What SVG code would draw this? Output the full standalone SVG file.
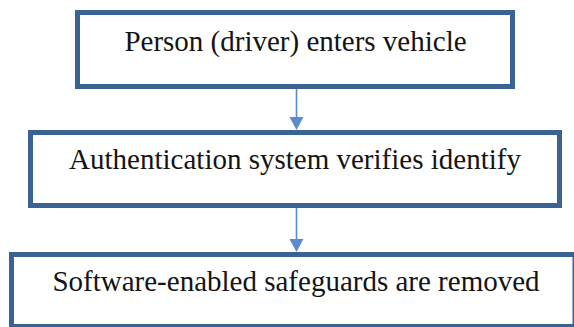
<svg xmlns="http://www.w3.org/2000/svg" width="574" height="327" viewBox="0 0 574 327">
  <defs>
    <style>
      .box { fill: #ffffff; stroke: #3b6294; stroke-width: 5; }
      .label { font-family: "Liberation Serif", "Times New Roman", serif; font-size: 29px; fill: #141414; text-anchor: middle; }
      .link { stroke: #5b8bcf; stroke-width: 1.6; fill: none; }
      .head { fill: #5b8bcf; }
    </style>
  </defs>
  <rect width="574" height="327" fill="#ffffff"/>

  <!-- connectors -->
  <g id="connectors">
    <line class="link" x1="296.5" y1="88" x2="296.5" y2="118"/>
    <polygon class="head" points="289.5,117 303.5,117 296.5,130"/>
    <line class="link" x1="296.5" y1="208" x2="296.5" y2="240"/>
    <polygon class="head" points="289.5,239 303.5,239 296.5,252"/>
  </g>

  <g id="node-enter">
    <rect class="box" x="77.5" y="12.5" width="435" height="74"/>
    <text class="label" x="295.5" y="51">Person (driver) enters vehicle</text>
  </g>

  <g id="node-auth">
    <rect class="box" x="30.5" y="132.5" width="529" height="73"/>
    <text class="label" x="295" y="169">Authentication system verifies identify</text>
  </g>

  <!-- last step runs past the right and bottom edges of the canvas -->
  <g id="node-safeguards">
    <rect class="box" x="11.5" y="254.5" width="563.5" height="72"/>
    <text class="label" x="296" y="291">Software-enabled safeguards are removed</text>
  </g>
</svg>
